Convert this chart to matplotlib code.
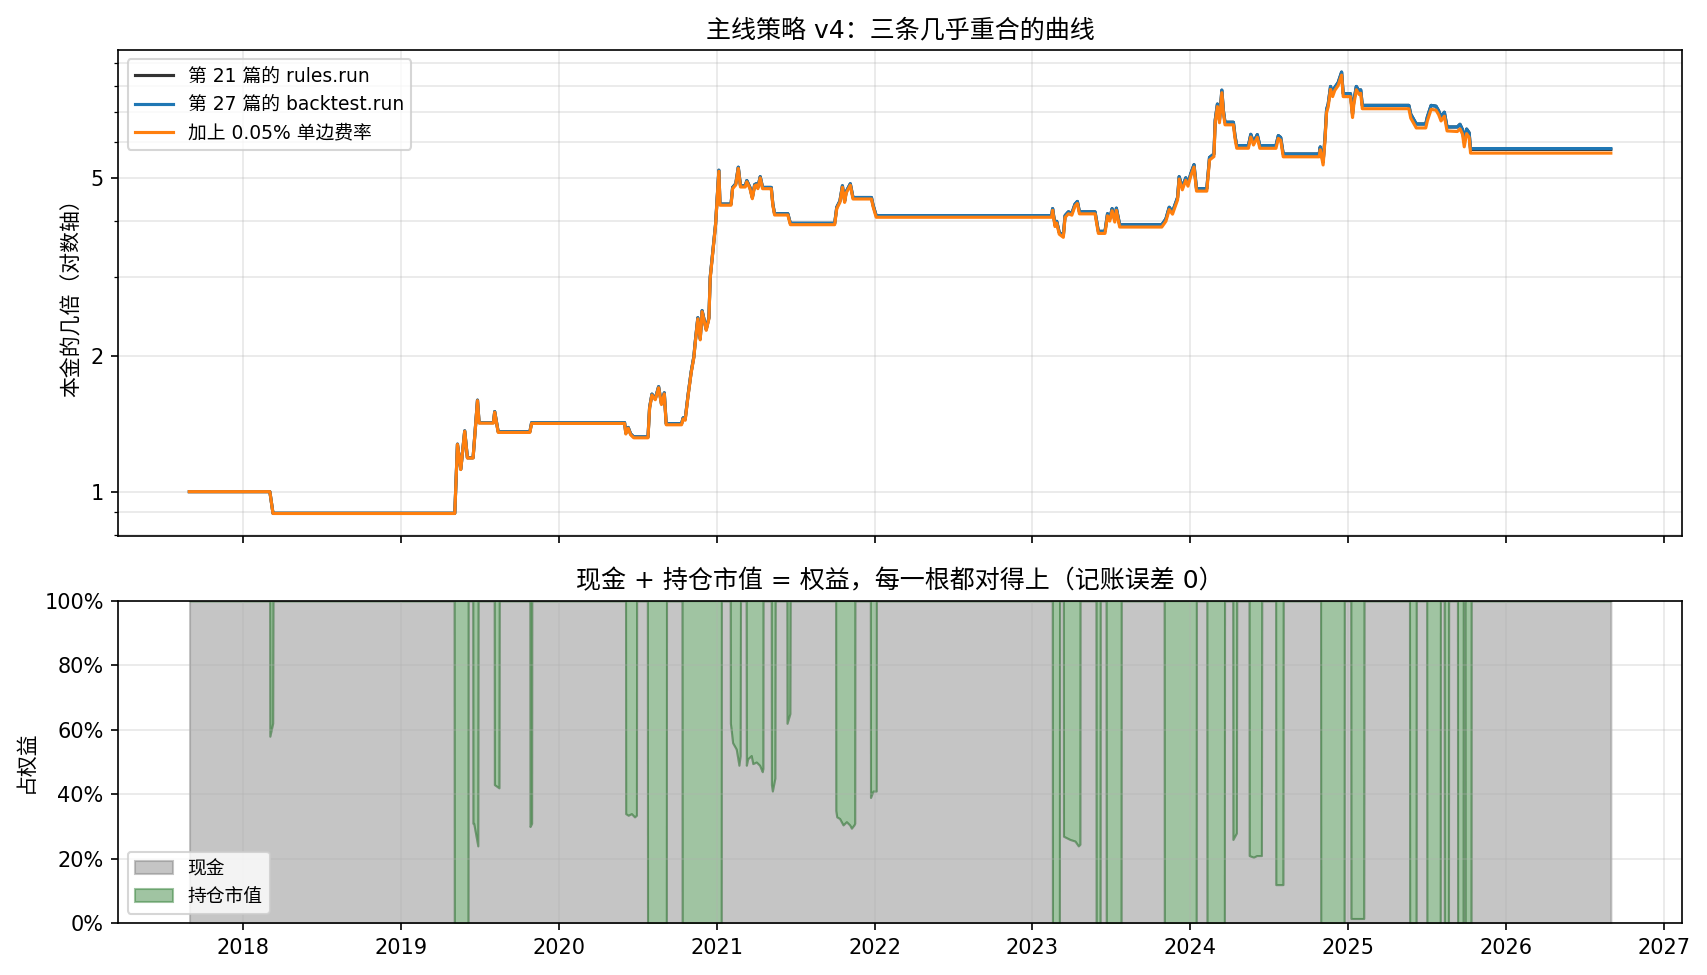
import datetime as dt
import matplotlib
matplotlib.use("Agg")
import matplotlib.pyplot as plt
import matplotlib.dates as mdates
from matplotlib.ticker import FuncFormatter, NullFormatter, PercentFormatter

plt.rcParams['font.family'] = ['DejaVu Sans', 'Noto Sans CJK SC']
plt.rcParams['axes.unicode_minus'] = False

# ---------------- data (decimal years) ----------------
eq_years = [
    2017.660, 2018.170, 2018.190, 2019.342, 2019.359, 2019.380, 2019.405, 2019.422, 2019.458, 2019.486,
    2019.496, 2019.587, 2019.595, 2019.617, 2019.818, 2019.829, 2020.417, 2020.425, 2020.440, 2020.455,
    2020.475, 2020.565, 2020.575, 2020.590, 2020.611, 2020.632, 2020.650, 2020.668, 2020.680, 2020.777,
    2020.787, 2020.800, 2020.819, 2020.838, 2020.855, 2020.862, 2020.880, 2020.895, 2020.907, 2020.933,
    2020.950, 2020.958, 2020.975, 2020.992, 2021.000, 2021.013, 2021.020, 2021.090, 2021.100, 2021.120,
    2021.136, 2021.150, 2021.180, 2021.190, 2021.210, 2021.225, 2021.240, 2021.250, 2021.260, 2021.275,
    2021.290, 2021.345, 2021.355, 2021.366, 2021.450, 2021.466, 2021.747, 2021.760, 2021.780, 2021.796,
    2021.810, 2021.820, 2021.846, 2021.863, 2021.980, 2021.990, 2022.010, 2023.122, 2023.128, 2023.143,
    2023.154, 2023.170, 2023.196, 2023.207, 2023.228, 2023.250, 2023.270, 2023.285, 2023.298, 2023.397,
    2023.418, 2023.460, 2023.476, 2023.490, 2023.505, 2023.522, 2023.532, 2023.553, 2023.820, 2023.846,
    2023.867, 2023.888, 2023.898, 2023.920, 2023.930, 2023.950, 2023.972, 2023.986, 2024.003, 2024.024,
    2024.040, 2024.105, 2024.122, 2024.150, 2024.158, 2024.172, 2024.185, 2024.200, 2024.210, 2024.220,
    2024.273, 2024.283, 2024.294, 2024.368, 2024.383, 2024.400, 2024.424, 2024.440, 2024.542, 2024.557,
    2024.572, 2024.588, 2024.815, 2024.822, 2024.840, 2024.852, 2024.862, 2024.872, 2024.887, 2024.900,
    2024.914, 2024.935, 2024.957, 2024.967, 2025.013, 2025.026, 2025.034, 2025.050, 2025.068, 2025.078,
    2025.088, 2025.383, 2025.395, 2025.430, 2025.490, 2025.500, 2025.524, 2025.555, 2025.572, 2025.587,
    2025.608, 2025.625, 2025.690, 2025.707, 2025.723, 2025.734, 2025.749, 2025.765, 2025.774, 2026.663,
]

backtest_run = [
    1.000, 1.000, 0.895, 0.895, 1.276, 1.122, 1.366, 1.190, 1.190, 1.599,
    1.425, 1.425, 1.508, 1.360, 1.360, 1.425, 1.425, 1.350, 1.390, 1.345,
    1.324, 1.324, 1.540, 1.649, 1.610, 1.713, 1.571, 1.660, 1.417, 1.417,
    1.460, 1.450, 1.650, 1.850, 2.000, 2.130, 2.440, 2.190, 2.530, 2.300,
    2.440, 3.000, 3.440, 3.940, 4.370, 5.200, 4.370, 4.370, 4.760, 4.850,
    5.280, 4.800, 4.800, 4.930, 4.760, 4.520, 4.830, 4.850, 4.760, 5.030,
    4.760, 4.760, 4.370, 4.160, 4.160, 3.960, 3.960, 4.300, 4.440, 4.800,
    4.440, 4.660, 4.850, 4.520, 4.520, 4.350, 4.120, 4.120, 4.270, 3.930,
    4.000, 3.780, 3.720, 4.120, 4.200, 4.170, 4.370, 4.430, 4.200, 4.200,
    3.800, 3.800, 4.160, 4.050, 4.270, 4.030, 4.280, 3.930, 3.930, 4.050,
    4.300, 4.200, 4.300, 4.520, 5.030, 4.760, 5.000, 4.850, 5.100, 5.350,
    4.730, 4.730, 5.550, 5.650, 6.720, 7.300, 6.720, 7.840, 7.050, 6.650,
    6.650, 6.210, 5.900, 5.900, 6.250, 6.000, 6.240, 5.900, 5.900, 6.210,
    6.150, 5.650, 5.650, 5.860, 5.420, 6.150, 7.100, 7.300, 7.990, 7.700,
    7.950, 8.150, 8.600, 7.700, 7.700, 6.930, 7.400, 7.990, 7.800, 7.850,
    7.250, 7.250, 6.930, 6.590, 6.590, 6.830, 7.250, 7.220, 7.050, 6.830,
    7.000, 6.490, 6.490, 6.580, 6.400, 6.000, 6.420, 6.300, 5.810, 5.810,
]

rules_run = [
    1.000, 1.000, 0.895, 0.895, 1.276, 1.122, 1.366, 1.190, 1.190, 1.599,
    1.425, 1.425, 1.508, 1.360, 1.360, 1.425, 1.425, 1.350, 1.390, 1.345,
    1.324, 1.324, 1.540, 1.649, 1.610, 1.713, 1.571, 1.660, 1.417, 1.417,
    1.460, 1.450, 1.650, 1.850, 2.000, 2.130, 2.440, 2.190, 2.530, 2.300,
    2.440, 3.000, 3.440, 3.940, 4.370, 5.200, 4.370, 4.370, 4.760, 4.850,
    5.280, 4.800, 4.800, 4.930, 4.760, 4.520, 4.830, 4.850, 4.760, 5.030,
    4.760, 4.760, 4.370, 4.160, 4.160, 3.960, 3.960, 4.300, 4.440, 4.800,
    4.440, 4.660, 4.850, 4.520, 4.520, 4.350, 4.120, 4.120, 4.270, 3.930,
    4.000, 3.780, 3.720, 4.120, 4.200, 4.170, 4.370, 4.430, 4.200, 4.200,
    3.800, 3.800, 4.160, 4.050, 4.270, 4.030, 4.280, 3.930, 3.930, 4.050,
    4.300, 4.200, 4.300, 4.520, 5.030, 4.760, 5.000, 4.850, 5.100, 5.350,
    4.730, 4.730, 5.550, 5.650, 6.720, 7.300, 6.720, 7.840, 7.050, 6.650,
    6.650, 6.210, 5.900, 5.900, 6.250, 6.000, 6.240, 5.900, 5.900, 6.210,
    6.150, 5.650, 5.650, 5.860, 5.420, 6.150, 7.100, 7.300, 7.990, 7.700,
    7.950, 8.150, 8.600, 7.700, 7.700, 6.930, 7.400, 7.990, 7.800, 7.850,
    7.250, 7.250, 6.930, 6.590, 6.590, 6.830, 7.250, 7.220, 7.050, 6.830,
    7.000, 6.490, 6.490, 6.580, 6.400, 6.000, 6.420, 6.300, 5.785, 5.785,
]

with_fee = [
    1.000, 1.000, 0.894, 0.894, 1.274, 1.120, 1.363, 1.188, 1.188, 1.595,
    1.421, 1.421, 1.503, 1.355, 1.355, 1.419, 1.419, 1.344, 1.384, 1.339,
    1.318, 1.318, 1.533, 1.641, 1.602, 1.704, 1.563, 1.651, 1.409, 1.409,
    1.452, 1.442, 1.641, 1.840, 1.989, 2.118, 2.426, 2.178, 2.516, 2.287,
    2.426, 2.983, 3.421, 3.918, 4.346, 5.171, 4.345, 4.345, 4.731, 4.820,
    5.248, 4.770, 4.770, 4.899, 4.730, 4.492, 4.800, 4.820, 4.730, 4.998,
    4.729, 4.729, 4.341, 4.132, 4.132, 3.932, 3.932, 4.269, 4.408, 4.765,
    4.408, 4.626, 4.814, 4.486, 4.486, 4.315, 4.085, 4.085, 4.233, 3.895,
    3.964, 3.745, 3.685, 4.080, 4.159, 4.129, 4.326, 4.385, 4.157, 4.157,
    3.760, 3.760, 4.115, 4.006, 4.223, 3.985, 4.232, 3.885, 3.885, 4.002,
    4.249, 4.150, 4.249, 4.466, 4.969, 4.702, 4.939, 4.791, 5.038, 5.285,
    4.671, 4.671, 5.478, 5.577, 6.633, 7.205, 6.632, 7.737, 6.957, 6.562,
    6.562, 6.126, 5.820, 5.820, 6.164, 5.917, 6.154, 5.818, 5.818, 6.122,
    6.063, 5.569, 5.569, 5.775, 5.341, 6.060, 6.995, 7.192, 7.871, 7.585,
    7.831, 8.027, 8.470, 7.583, 7.583, 6.812, 7.274, 7.854, 7.667, 7.717,
    7.127, 7.127, 6.791, 6.458, 6.458, 6.693, 7.105, 7.076, 6.909, 6.693,
    6.860, 6.360, 6.341, 6.429, 6.253, 5.862, 6.272, 6.155, 5.676, 5.676,
]

cash_years = [
    2017.661, 2018.169, 2018.170, 2018.188, 2018.190,
    2019.338, 2019.339, 2019.426, 2019.427,
    2019.456, 2019.457, 2019.462, 2019.488, 2019.490,
    2019.592, 2019.593, 2019.622, 2019.624,
    2019.818, 2019.819, 2019.829, 2019.830,
    2020.423, 2020.424, 2020.440, 2020.460, 2020.480, 2020.492, 2020.493,
    2020.561, 2020.562, 2020.681, 2020.682,
    2020.780, 2020.781, 2021.028, 2021.029,
    2021.085, 2021.086, 2021.091, 2021.100, 2021.123, 2021.140, 2021.148, 2021.150,
    2021.186, 2021.187, 2021.196, 2021.218, 2021.228, 2021.250, 2021.271, 2021.288, 2021.292, 2021.293,
    2021.345, 2021.346, 2021.352, 2021.368, 2021.370,
    2021.444, 2021.445, 2021.463, 2021.465,
    2021.753, 2021.754, 2021.760, 2021.778, 2021.800, 2021.821, 2021.842, 2021.853, 2021.869, 2021.874, 2021.875,
    2021.973, 2021.974, 2021.990, 2022.010, 2022.011,
    2023.126, 2023.127, 2023.171, 2023.172,
    2023.196, 2023.197, 2023.238, 2023.270, 2023.291, 2023.301, 2023.302,
    2023.403, 2023.404, 2023.429, 2023.430,
    2023.467, 2023.468, 2023.562, 2023.563,
    2023.835, 2023.836, 2024.038, 2024.039,
    2024.105, 2024.106, 2024.216, 2024.217,
    2024.269, 2024.270, 2024.292, 2024.294,
    2024.372, 2024.373, 2024.400, 2024.420, 2024.450, 2024.452,
    2024.540, 2024.541, 2024.586, 2024.588,
    2024.824, 2024.825, 2024.973, 2024.974,
    2025.015, 2025.016, 2025.097, 2025.099,
    2025.387, 2025.388, 2025.429, 2025.430,
    2025.496, 2025.497, 2025.582, 2025.583,
    2025.607, 2025.608, 2025.634, 2025.635,
    2025.691, 2025.692, 2025.727, 2025.728,
    2025.739, 2025.740, 2025.777, 2025.778,
    2026.663,
]

cash_share = [
    1.0, 1.0, 0.58, 0.62, 1.0,
    1.0, 0.0, 0.0, 1.0,
    1.0, 0.31, 0.31, 0.24, 1.0,
    1.0, 0.43, 0.42, 1.0,
    1.0, 0.30, 0.31, 1.0,
    1.0, 0.34, 0.335, 0.34, 0.33, 0.335, 1.0,
    1.0, 0.0, 0.0, 1.0,
    1.0, 0.0, 0.0, 1.0,
    1.0, 0.62, 0.60, 0.56, 0.54, 0.49, 0.52, 1.0,
    1.0, 0.49, 0.51, 0.52, 0.495, 0.50, 0.49, 0.47, 0.48, 1.0,
    1.0, 0.43, 0.41, 0.45, 1.0,
    1.0, 0.62, 0.65, 1.0,
    1.0, 0.35, 0.33, 0.325, 0.305, 0.315, 0.305, 0.295, 0.305, 0.31, 1.0,
    1.0, 0.39, 0.41, 0.41, 1.0,
    1.0, 0.0, 0.0, 1.0,
    1.0, 0.27, 0.26, 0.255, 0.24, 0.245, 1.0,
    1.0, 0.0, 0.0, 1.0,
    1.0, 0.0, 0.0, 1.0,
    1.0, 0.0, 0.0, 1.0,
    1.0, 0.0, 0.0, 1.0,
    1.0, 0.26, 0.28, 1.0,
    1.0, 0.21, 0.205, 0.21, 0.21, 1.0,
    1.0, 0.12, 0.12, 1.0,
    1.0, 0.0, 0.0, 1.0,
    1.0, 0.015, 0.015, 1.0,
    1.0, 0.0, 0.0, 1.0,
    1.0, 0.0, 0.0, 1.0,
    1.0, 0.0, 0.0, 1.0,
    1.0, 0.0, 0.0, 1.0,
    1.0, 0.0, 0.0, 1.0,
    1.0,
]

y_ticks_top = [1, 2, 5]


def to_date(y):
    yi = int(y)
    start = dt.datetime(yi, 1, 1)
    end = dt.datetime(yi + 1, 1, 1)
    return start + (end - start) * (y - yi)


eq_dates = [to_date(v) for v in eq_years]
cash_dates = [to_date(v) for v in cash_years]

# ---------------- figure ----------------
fig = plt.figure(figsize=(1707 / 150, 975 / 150), dpi=150)
ax1 = fig.add_axes([0.0693, 0.4507, 0.916, 0.498])
ax2 = fig.add_axes([0.0693, 0.0530, 0.916, 0.3309], sharex=ax1)

ax1.plot(eq_dates, rules_run, color='#333333', lw=1.5, label='第 21 篇的 rules.run')
ax1.plot(eq_dates, backtest_run, color='#1f77b4', lw=1.5, label='第 27 篇的 backtest.run')
ax1.plot(eq_dates, with_fee, color='#ff7f0e', lw=1.5, label='加上 0.05% 单边费率')
ax1.set_yscale('log')
ax1.set_yticks(y_ticks_top)
ax1.yaxis.set_major_formatter(FuncFormatter(lambda v, _: f'{v:g}'))
ax1.yaxis.set_minor_formatter(NullFormatter())
ax1.grid(True, which='both', alpha=0.3)
ax1.set_ylabel('本金的几倍（对数轴）')
ax1.set_title('主线策略 v4：三条几乎重合的曲线', fontsize=12)
ax1.legend(loc='upper left', fontsize=9)
plt.setp(ax1.get_xticklabels(), visible=False)

ax2.fill_between(cash_dates, 0, cash_share, color='gray', alpha=0.45, label='现金')
ax2.fill_between(cash_dates, cash_share, 1, color='#2e7d32', alpha=0.45, label='持仓市值')
ax2.set_ylim(0, 1)
ax2.yaxis.set_major_formatter(PercentFormatter(1.0, decimals=0))
ax2.grid(True, alpha=0.3)
ax2.set_ylabel('占权益')
ax2.set_title('现金 + 持仓市值 = 权益，每一根都对得上（记账误差 0）', fontsize=12)
ax2.legend(loc='lower left', fontsize=9)

ax2.xaxis.set_major_locator(mdates.YearLocator(1))
ax2.xaxis.set_major_formatter(mdates.DateFormatter('%Y'))

fig.savefig('out.png', dpi=150)
